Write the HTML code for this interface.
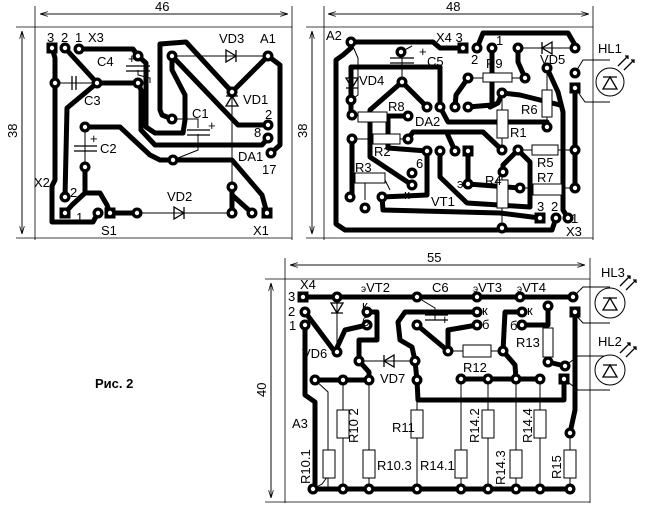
<!DOCTYPE html>
<html><head><meta charset="utf-8"><style>
html,body{margin:0;padding:0;background:#fff;}
svg{display:block;}
text{font-family:"Liberation Sans",Arial,sans-serif;fill:#000;font-size:13px;}
</style></head><body>
<svg width="645" height="511" viewBox="0 0 645 511" xmlns="http://www.w3.org/2000/svg">
<defs>
<marker id="ar" markerWidth="10" markerHeight="6" refX="10" refY="3" orient="auto"><path d="M0,0 L10,3 L0,6" fill="none" stroke="#000" stroke-width="1"/></marker>
<g id="p"><circle r="5.5" fill="#000"/><circle r="2.2" fill="#fff"/></g>
<g id="s"><rect x="-5.5" y="-5.5" width="11" height="11" fill="#000"/><circle r="2.2" fill="#fff"/></g>
</defs>
<g stroke="#000" fill="none" stroke-width="0.8">
<line x1="35" y1="6" x2="35" y2="240"/><line x1="292" y1="6" x2="292" y2="240"/>
<line x1="40" y1="14" x2="288" y2="14" marker-end="url(#ar)"/><line x1="288" y1="14" x2="40" y2="14" marker-end="url(#ar)"/>
<line x1="16" y1="27" x2="292" y2="27"/><line x1="16" y1="238" x2="292" y2="238"/>
<line x1="22" y1="31" x2="22" y2="234" marker-end="url(#ar)"/><line x1="22" y1="234" x2="22" y2="31" marker-end="url(#ar)"/>
<line x1="324" y1="6" x2="324" y2="240"/><line x1="593" y1="6" x2="593" y2="240"/>
<line x1="328" y1="14" x2="589" y2="14" marker-end="url(#ar)"/><line x1="589" y1="14" x2="328" y2="14" marker-end="url(#ar)"/>
<line x1="306" y1="27" x2="593" y2="27"/><line x1="306" y1="238" x2="593" y2="238"/>
<line x1="312" y1="31" x2="312" y2="234" marker-end="url(#ar)"/><line x1="312" y1="234" x2="312" y2="31" marker-end="url(#ar)"/>
<line x1="285" y1="258" x2="285" y2="503"/><line x1="590" y1="258" x2="590" y2="503"/>
<line x1="290" y1="265" x2="585" y2="265" marker-end="url(#ar)"/><line x1="585" y1="265" x2="290" y2="265" marker-end="url(#ar)"/>
<line x1="265" y1="279" x2="590" y2="279"/><line x1="265" y1="502" x2="590" y2="502"/>
<line x1="271" y1="283" x2="271" y2="498" marker-end="url(#ar)"/><line x1="271" y1="498" x2="271" y2="283" marker-end="url(#ar)"/>
</g>

<g stroke="#000" fill="none" stroke-width="1">
<line x1="172" y1="56" x2="268" y2="56"/><line x1="232" y1="92" x2="232" y2="187"/>
<line x1="137" y1="213" x2="232" y2="213"/><line x1="55" y1="83" x2="97" y2="83"/>
<polyline points="172,119 198,119 198,128"/><polyline points="198,134 198,150 173,160"/>
<polyline points="138,70 138,75 150,78 150,83"/><line x1="85" y1="127" x2="85" y2="167"/>
<polyline points="351,42 358,58 358,95 351,100"/><polyline points="401,52 412,46"/>
<polyline points="402,58 402,82"/>
<line x1="352" y1="115" x2="408" y2="116"/><line x1="352" y1="139" x2="408" y2="139"/>
<line x1="518" y1="48" x2="575" y2="48"/><line x1="468" y1="78" x2="525" y2="78"/>
<line x1="502" y1="93" x2="502" y2="150"/><line x1="547" y1="68" x2="547" y2="127"/>
<line x1="518" y1="150" x2="575" y2="150"/><line x1="520" y1="188" x2="575" y2="188"/>
<line x1="502" y1="172" x2="502" y2="228"/>
<polyline points="575,73 583,60 610,60"/><polyline points="575,88 585,102 610,102"/>
<polyline points="350,190 355,180 385,180 390,190"/><line x1="365" y1="183" x2="365" y2="200"/>
<line x1="337" y1="297" x2="337" y2="352"/>
<line x1="359" y1="361" x2="415" y2="361"/>
<polyline points="417,297 425,302 435,308 435,320"/>
<line x1="448" y1="351" x2="503" y2="351"/>
<polyline points="315,380 328,392 328,489"/><line x1="343" y1="380" x2="343" y2="489"/>
<line x1="369" y1="380" x2="369" y2="489"/><line x1="417" y1="400" x2="417" y2="489"/>
<line x1="461" y1="379" x2="461" y2="489"/><line x1="488" y1="379" x2="488" y2="489"/>
<line x1="516" y1="379" x2="516" y2="489"/><line x1="540" y1="379" x2="540" y2="489"/>
<line x1="570" y1="433" x2="570" y2="489"/><polyline points="313,489 322,484 328,476"/>
<polyline points="573,297 583,287 610,287"/><polyline points="573,312 583,323 610,323"/>
<polyline points="565,366 578,356 610,356"/><polyline points="564,379 578,390 610,390"/>
</g>

<g stroke="#000" fill="none" stroke-width="5" stroke-linejoin="round" stroke-linecap="round">
<polyline points="52,48 55,58 55,180 52,186 52,222 93,222 98,213"/>
<polyline points="65,48 97,83 67,108 65,197"/>
<polyline points="79,49 133,49 138,56 146,63 146,127 155,133 183,133 185,120 185,95 172,70 172,56"/>
<polyline points="172,119 162,115 160,110 160,44 186,42 232,92"/>
<polyline points="97,83 138,83 141,90 141,130 155,145 262,145 268,138"/>
<polyline points="85,127 120,127 150,155 160,160 232,160 262,195 267,213"/>
<polyline points="172,56 238,125 268,125"/>
<polyline points="268,56 280,65 280,145 271,153"/>
<line x1="268" y1="56" x2="232" y2="92"/>
<polyline points="85,167 85,193 100,193 107,205 110,213"/>
<polyline points="85,193 72,205 65,213"/>
<line x1="110" y1="213" x2="137" y2="213"/>
<polyline points="232,187 232,213"/><polyline points="232,195 252,213"/>
<polyline points="351,42 433,42 440,48 463,48"/>
<polyline points="351,48 343,55 336,60 336,224 345,230 552,230 556,218"/>
<polyline points="351,100 351,67 440,67 440,107"/>
<polyline points="351,115 351,100"/>
<polyline points="402,82 427,107"/><polyline points="402,82 370,110 370,157 412,185"/>
<polyline points="408,116 388,116 388,148 427,151"/>
<polyline points="427,151 427,195 382,197"/>
<polyline points="352,139 352,195"/>
<polyline points="382,197 383,210 500,213 540,218"/>
<polyline points="440,151 440,177 467,203 530,207 530,162 518,150"/>
<polyline points="408,139 413,132 483,132 502,150"/>
<polyline points="455,151 447,133"/>
<polyline points="440,107 448,122 547,122 547,127"/>
<polyline points="468,151 468,184 520,188"/>
<polyline points="518,150 503,165 503,172"/>
<polyline points="477,48 483,33 568,33 575,45"/>
<polyline points="492,48 492,105 468,107"/>
<polyline points="518,48 518,62 525,78"/>
<polyline points="455,107 456,95 468,78"/>
<polyline points="502,93 520,95 560,105"/>
<polyline points="502,93 498,103 490,107"/>
<polyline points="547,68 558,92 563,112 563,210 568,218"/>
<polyline points="575,88 575,188"/>
<line x1="303" y1="297" x2="573" y2="297"/>
<polyline points="305,312 335,352 345,330 367,325"/>
<polyline points="367,312 377,312 377,340 359,340 359,361 369,372 369,380"/>
<polyline points="305,325 305,395 315,402 315,489"/>
<line x1="315" y1="380" x2="369" y2="380"/>
<polyline points="477,312 405,312 398,322 400,340 412,347 415,361 417,380 418,400 564,400 564,379"/>
<polyline points="417,325 448,351 448,330 477,325"/>
<polyline points="522,312 505,312 503,351 515,365 516,379"/>
<polyline points="522,325 548,325 548,306"/>
<polyline points="548,362 565,366"/>
<line x1="461" y1="379" x2="540" y2="379"/>
<polyline points="575,312 575,410 570,433"/>
<line x1="313" y1="489" x2="570" y2="489"/>
</g>

<g stroke="#000" fill="#fff" stroke-width="1">
<rect x="358" y="112" width="29" height="10"/><rect x="373" y="134" width="27" height="10"/>
<rect x="483" y="73" width="29" height="9"/><rect x="542" y="90" width="10" height="27"/>
<rect x="497" y="110" width="11" height="28"/><rect x="532" y="145" width="26" height="10"/>
<rect x="533" y="184" width="29" height="11"/><rect x="497" y="180" width="11" height="28"/>
<rect x="355" y="173" width="30" height="10"/>
<rect x="337" y="410" width="12" height="28"/><rect x="323" y="450" width="12" height="28"/>
<rect x="363" y="450" width="12" height="28"/><rect x="411" y="410" width="12" height="28"/>
<rect x="455" y="450" width="12" height="28"/><rect x="482" y="410" width="12" height="28"/>
<rect x="510" y="450" width="12" height="28"/><rect x="534" y="410" width="12" height="28"/>
<rect x="564" y="450" width="12" height="28"/>
<rect x="463" y="345" width="28" height="12"/><rect x="543" y="328" width="10" height="29"/>
<circle cx="610" cy="82" r="14"/><circle cx="610" cy="303" r="15"/><circle cx="610" cy="370" r="15"/>
</g>
<g stroke="#000" fill="none" stroke-width="1.3">
<line x1="126" y1="66" x2="150" y2="66"/><line x1="126" y1="71" x2="150" y2="71"/>
<line x1="72" y1="76" x2="72" y2="90"/><line x1="76" y1="76" x2="76" y2="90"/>
<line x1="187" y1="130" x2="210" y2="130"/><line x1="187" y1="135" x2="210" y2="135"/>
<line x1="74" y1="146" x2="97" y2="146"/><line x1="74" y1="151" x2="97" y2="151"/>
<line x1="390" y1="58" x2="414" y2="58"/><line x1="390" y1="63" x2="414" y2="63"/>
<line x1="425" y1="315" x2="448" y2="315"/><line x1="425" y1="320" x2="448" y2="320"/>
<path d="M226,50 L236,56 L226,62 Z M236,50 L236,62"/>
<path d="M226,106 L232,96 L238,106 Z M226,96 L238,96"/>
<path d="M174,207 L184,213 L174,219 Z M184,207 L184,219"/>
<path d="M346,78 L352,88 L358,78 Z M346,88 L358,88"/>
<path d="M552,42 L542,48 L552,54 Z M542,42 L542,54"/>
<path d="M331,303 L337,313 L343,303 Z M331,313 L343,313"/>
<path d="M394,355 L384,361 L394,367 Z M384,355 L384,367"/>
<path d="M603,89 L610,77 L617,89 Z M603,77 L617,77"/>
<path d="M603,310 L610,298 L617,310 Z M603,298 L617,298"/>
<path d="M603,377 L610,365 L617,377 Z M603,365 L617,365"/>
<path d="M618,66 L628,56 M624,70 L634,60 M625,56 L628,56 L628,59 M631,60 L634,60 L634,63"/>
<path d="M620,286 L630,276 M626,290 L636,280 M627,276 L630,276 L630,279 M633,280 L636,280 L636,283"/>
<path d="M620,353 L630,343 M626,357 L636,347 M627,343 L630,343 L630,346 M633,347 L636,347 L636,350"/>
</g>

<g>
<use href="#s" x="52" y="48"/><use href="#p" x="65" y="48"/><use href="#p" x="79" y="49"/>
<use href="#p" x="138" y="56"/><use href="#p" x="138" y="83"/><use href="#p" x="55" y="83"/><use href="#p" x="97" y="83"/>
<use href="#p" x="172" y="56"/><use href="#p" x="268" y="56"/><use href="#p" x="232" y="92"/>
<use href="#p" x="172" y="119"/><use href="#p" x="85" y="127"/><use href="#p" x="85" y="167"/>
<use href="#p" x="173" y="160"/><use href="#p" x="268" y="125"/><use href="#p" x="268" y="138"/><use href="#p" x="271" y="153"/>
<use href="#p" x="232" y="187"/><use href="#p" x="232" y="213"/><use href="#p" x="252" y="213"/><use href="#s" x="267" y="213"/>
<use href="#p" x="65" y="197"/><use href="#s" x="65" y="213"/><use href="#p" x="98" y="213"/><use href="#s" x="110" y="213"/><use href="#p" x="137" y="213"/>
<use href="#p" x="351" y="42"/><use href="#p" x="401" y="52"/><use href="#s" x="463" y="48"/><use href="#p" x="477" y="48"/>
<use href="#p" x="492" y="48"/><use href="#p" x="518" y="48"/><use href="#p" x="575" y="48"/>
<use href="#p" x="402" y="82"/><use href="#p" x="351" y="100"/>
<use href="#p" x="427" y="107"/><use href="#p" x="440" y="107"/><use href="#p" x="455" y="107"/><use href="#p" x="468" y="107"/>
<use href="#p" x="352" y="115"/><use href="#p" x="408" y="116"/><use href="#p" x="352" y="139"/><use href="#p" x="408" y="139"/>
<use href="#p" x="427" y="151"/><use href="#p" x="440" y="151"/><use href="#p" x="455" y="151"/><use href="#s" x="468" y="151"/>
<use href="#p" x="502" y="150"/><use href="#p" x="518" y="150"/><use href="#p" x="575" y="150"/>
<use href="#p" x="468" y="78"/><use href="#p" x="525" y="78"/><use href="#p" x="547" y="68"/><use href="#p" x="575" y="73"/><use href="#s" x="575" y="88"/>
<use href="#p" x="502" y="93"/><use href="#p" x="547" y="127"/>
<use href="#p" x="412" y="173"/><use href="#p" x="412" y="185"/>
<use href="#p" x="350" y="197"/><use href="#p" x="365" y="208"/><use href="#p" x="382" y="197"/>
<use href="#p" x="468" y="184"/><use href="#p" x="503" y="172"/><use href="#p" x="520" y="188"/><use href="#p" x="575" y="188"/>
<use href="#s" x="540" y="218"/><use href="#p" x="556" y="218"/><use href="#p" x="568" y="218"/><use href="#p" x="502" y="228"/>
<use href="#s" x="303" y="297"/><use href="#p" x="337" y="297"/><use href="#p" x="417" y="297"/><use href="#p" x="477" y="297"/><use href="#p" x="520" y="297"/><use href="#p" x="573" y="297"/>
<use href="#p" x="305" y="312"/><use href="#p" x="367" y="312"/><use href="#p" x="477" y="312"/><use href="#p" x="522" y="312"/><use href="#s" x="575" y="312"/>
<use href="#p" x="305" y="325"/><use href="#p" x="367" y="325"/><use href="#p" x="417" y="325"/><use href="#p" x="477" y="325"/><use href="#p" x="522" y="325"/>
<use href="#p" x="548" y="306"/><use href="#p" x="337" y="352"/><use href="#p" x="359" y="361"/><use href="#p" x="415" y="361"/>
<use href="#p" x="448" y="351"/><use href="#p" x="503" y="351"/><use href="#p" x="548" y="362"/><use href="#p" x="565" y="366"/>
<use href="#p" x="315" y="380"/><use href="#p" x="343" y="380"/><use href="#p" x="369" y="380"/><use href="#p" x="417" y="380"/>
<use href="#p" x="461" y="379"/><use href="#p" x="488" y="379"/><use href="#p" x="516" y="379"/><use href="#p" x="540" y="379"/><use href="#s" x="564" y="379"/>
<use href="#p" x="570" y="433"/>
<use href="#p" x="313" y="489"/><use href="#p" x="343" y="489"/><use href="#p" x="369" y="489"/><use href="#p" x="417" y="489"/>
<use href="#p" x="461" y="489"/><use href="#p" x="488" y="489"/><use href="#p" x="516" y="489"/><use href="#p" x="540" y="489"/><use href="#p" x="570" y="489"/>
</g>

<g>
<text x="155" y="11">46</text><text x="446" y="11">48</text><text x="427" y="262">55</text>
<text transform="translate(17,138) rotate(-90)">38</text>
<text transform="translate(307,138) rotate(-90)">38</text>
<text transform="translate(266,397) rotate(-90)">40</text>
<text x="47" y="42">3</text><text x="61" y="42">2</text><text x="75" y="42">1</text><text x="88" y="42">X3</text>
<text x="97" y="66">C4</text><text x="128" y="63" font-size="9">+</text><text x="219" y="43">VD3</text><text x="260" y="43">A1</text>
<text x="84" y="105">C3</text><text x="243" y="104">VD1</text><text x="192" y="118">C1</text><text x="208" y="130" font-size="9">+</text>
<text x="265" y="119">2</text><text x="254" y="137">8</text><text x="238" y="161">DA1</text><text x="262" y="174">17</text>
<text x="100" y="153">C2</text><text x="90" y="143" font-size="9">+</text>
<text x="34" y="187">X2</text><text x="70" y="197">2</text><text x="76" y="222">1</text>
<text x="167" y="201">VD2</text><text x="101" y="235">S1</text><text x="253" y="235">X1</text>
<text x="326" y="40">A2</text><text x="436" y="42">X4 3</text><text x="471" y="64">2</text><text x="496" y="45">1</text>
<text x="427" y="66">C5</text><text x="419" y="56" font-size="9">+</text><text x="486" y="68">R9</text><text x="540" y="64">VD5</text>
<text x="598" y="53">HL1</text><text x="359" y="85">VD4</text><text x="388" y="111">R8</text><text x="415" y="126">DA2</text>
<text x="521" y="114">R6</text><text x="510" y="137">R1</text><text x="374" y="156">R2</text><text x="537" y="167">R5</text>
<text x="355" y="172">R3</text><text x="416" y="168">6</text><text x="485" y="185">R4</text><text x="537" y="182">R7</text>
<text x="457" y="188" font-size="10">э</text><text x="404" y="199" font-size="9">к</text><text x="431" y="206">VT1</text>
<text x="537" y="211">3</text><text x="551" y="211">2</text><text x="571" y="223">1</text><text x="566" y="236">X3</text>
<text x="300" y="289">X4</text><text x="288" y="301">3</text><text x="288" y="316">2</text><text x="289" y="330">1</text>
<text x="361" y="292"><tspan font-size="10">э</tspan>VT2</text><text x="432" y="292">C6</text>
<text x="473" y="292"><tspan font-size="10">э</tspan>VT3</text><text x="517" y="292"><tspan font-size="10">э</tspan>VT4</text>
<text x="362" y="310" font-size="9">к</text><text x="482" y="315" font-size="9">к</text><text x="527" y="315" font-size="9">к</text>
<text x="362" y="326" font-size="11">б</text><text x="482" y="329" font-size="11">б</text><text x="510" y="330" font-size="11">б</text>
<text x="441" y="324" font-size="9">+</text>
<text x="302" y="358">VD6</text><text x="380" y="383">VD7</text><text x="463" y="372">R12</text><text x="516" y="347">R13</text>
<text x="601" y="277">HL3</text><text x="598" y="346">HL2</text>
<text x="292" y="428">A3</text><text x="392" y="432">R11</text><text x="377" y="470">R10.3</text><text x="420" y="470">R14.1</text>
<text transform="translate(358,443) rotate(-90)">R10 2</text>
<text transform="translate(310,484) rotate(-90)">R10.1</text>
<text transform="translate(479,443) rotate(-90)">R14.2</text>
<text transform="translate(505,485) rotate(-90)">R14.3</text>
<text transform="translate(532,443) rotate(-90)">R14.4</text>
<text transform="translate(561,479) rotate(-90)">R15</text>
<text x="95" y="388" font-size="16" font-weight="bold">Рис. 2</text>
</g>
</svg>
</body></html>
